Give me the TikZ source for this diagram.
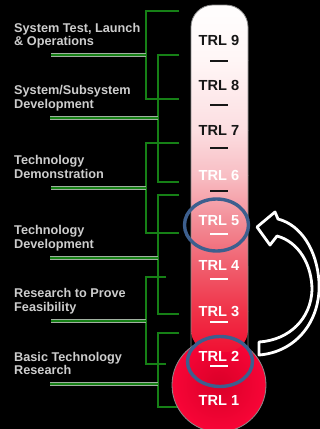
\documentclass[tikz,border=0pt]{standalone}
\usepackage{fontspec}
\setmainfont{Liberation Sans}
\usetikzlibrary{calc}

\definecolor{brk}{RGB}{22,128,22}
\definecolor{brkedge}{RGB}{160,175,160}
\definecolor{lblgray}{RGB}{205,205,205}
\definecolor{ring}{RGB}{61,95,142}
\definecolor{trldark}{RGB}{22,22,22}
\definecolor{tubeedge}{RGB}{140,140,140}
\definecolor{g0}{RGB}{255,255,255}
\definecolor{g1}{RGB}{255,246,246}
\definecolor{g2}{RGB}{252,222,225}
\definecolor{g3}{RGB}{248,190,196}
\definecolor{g4}{RGB}{243,142,152}
\definecolor{g5}{RGB}{240,95,110}
\definecolor{g6}{RGB}{240,50,72}
\definecolor{g7}{RGB}{240,15,50}
\definecolor{bulbin}{RGB}{218,0,40}
\definecolor{bulbout}{RGB}{248,5,55}

\tikzset{
  bracket/.style={draw=brk, line width=2.2, line cap=butt, line join=miter,
    preaction={draw=brkedge, line width=2.8}},
  lead/.style={bracket, line width=2.6, preaction={draw=brkedge, line width=3.2}},
  lbl/.style={anchor=north west, inner sep=0, align=left, text=lblgray,
    font=\fontsize{12.7}{13.5}\selectfont\bfseries},
  trl/.style={inner sep=0, font=\fontsize{14.6}{16}\selectfont\bfseries},
  trlmark/.style={line width=1.8},
  ring/.style={draw=ring, line width=3.4},
}

\begin{document}
\begin{tikzpicture}[x=1pt, y=-1pt]
\fill[black] (0,0) rectangle (320,429);
\useasboundingbox (0,0) rectangle (320,429);

% ---- phase labels ----
\node[lbl] (lA) at (14,23)    {System Test, Launch\\\& Operations};
\node[lbl] (lB) at (14,85.5)  {System/Subsystem\\Development};
\node[lbl] (lC) at (14,155.5) {Technology\\Demonstration};
\node[lbl] (lD) at (14,225.5) {Technology\\Development};
\node[lbl] (lE) at (14,288.5) {Research to Prove\\Feasibility};
\node[lbl] (lF) at (14,352)   {Basic Technology\\Research};

% lead-line start points under each label
\coordinate (lA-lead) at (51,55);
\coordinate (lB-lead) at (50,118);
\coordinate (lC-lead) at (51,188);
\coordinate (lD-lead) at (50,258);
\coordinate (lE-lead) at (51,321);
\coordinate (lF-lead) at (50,384);

% ---- brackets spanning the TRL range of each phase ----
\draw[bracket] (179,11)  -- (146,11)  -- (146,99)  -- (179,99);
\draw[bracket] (179,55)  -- (158,55)  -- (158,182) -- (179,182);
\draw[bracket] (179,143) -- (146,143) -- (146,233) -- (179,233);
\draw[bracket] (179,195) -- (158,195) -- (158,314) -- (179,314);
\draw[bracket] (166,277) -- (146,277) -- (146,364) -- (166,364);
\draw[bracket] (179,333) -- (158,333) -- (158,407) -- (179,407);

\draw[lead] (lA-lead) -- (146,55);
\draw[lead] (lB-lead) -- (158,118);
\draw[lead] (lC-lead) -- (146,188);
\draw[lead] (lD-lead) -- (158,258);
\draw[lead] (lE-lead) -- (146,321);
\draw[lead] (lF-lead) -- (158,384);

% ---- thermometer ----
% bulb
\shade[inner color=bulbin, outer color=bulbout] (219,385) circle[radius=47];
\draw[tubeedge, line width=0.8] (219,385) circle[radius=47];

% tube with red-to-white fill
\begin{scope}
  \clip[rounded corners=22] (191,352) -- (191,5) -- (248,5) -- (248,352) -- cycle;
  \shade[top color=g0, bottom color=g1] (185,0)   rectangle (255,60);
  \shade[top color=g1, bottom color=g2] (185,60)  rectangle (255,130);
  \shade[top color=g2, bottom color=g3] (185,130) rectangle (255,175);
  \shade[top color=g3, bottom color=g4] (185,175) rectangle (255,220);
  \shade[top color=g4, bottom color=g5] (185,220) rectangle (255,266);
  \shade[top color=g5, bottom color=g6] (185,266) rectangle (255,311);
  \shade[top color=g6, bottom color=g7] (185,311) rectangle (255,353);
\end{scope}
\draw[tubeedge, line width=0.8, rounded corners=22]
  (191,347) -- (191,5) -- (248,5) -- (248,347);

% ---- readiness levels ----
\node[trl, text=trldark] (t9) at (219,40.5) {TRL 9};
\node[trl, text=trldark] (t8) at (219,85.5) {TRL 8};
\node[trl, text=trldark] (t7) at (219,130)  {TRL 7};
\node[trl, text=white]   (t6) at (219,175.5){TRL 6};
\node[trl, text=white]   (t5) at (219,221)  {TRL 5};
\node[trl, text=white]   (t4) at (219,265.5){TRL 4};
\node[trl, text=white]   (t3) at (219,311)  {TRL 3};
\node[trl, text=white]   (t2) at (219,356)  {TRL 2};
\node[trl, text=white]   (t1) at (219,400)  {TRL 1};

\draw[trlmark, trldark] (210,61)  -- (228,61);
\draw[trlmark, trldark] (210,105) -- (228,105);
\draw[trlmark, trldark] (210,148) -- (228,148);
\draw[trlmark, trldark] (210,191) -- (228,191);
\draw[trlmark, white]   (210,234) -- (228,234);
\draw[trlmark, white]   (210,279) -- (228,279);
\draw[trlmark, white]   (210,322) -- (228,322);
\draw[trlmark, white]   (210,366) -- (228,366);

% ---- highlighted levels ----
\draw[ring] (216.5,225) ellipse[x radius=32, y radius=26];
\draw[ring] (220,361.5) ellipse[x radius=32.5, y radius=25];

% ---- curved jump arrow from TRL 2 up to TRL 5 ----
\draw[white, line width=2.8, fill=black, line join=round]
  (259,355) .. controls (297,352) and (321,320) .. (319,282)
  .. controls (317,250) and (301,225) .. (278,219)
  -- (275,212) -- (257,227) -- (270,245) -- (277,236)
  .. controls (299,242) and (312,265) .. (312,290)
  .. controls (311,318) and (290,340) .. (259,342) -- cycle;
\end{tikzpicture}
\end{document}
